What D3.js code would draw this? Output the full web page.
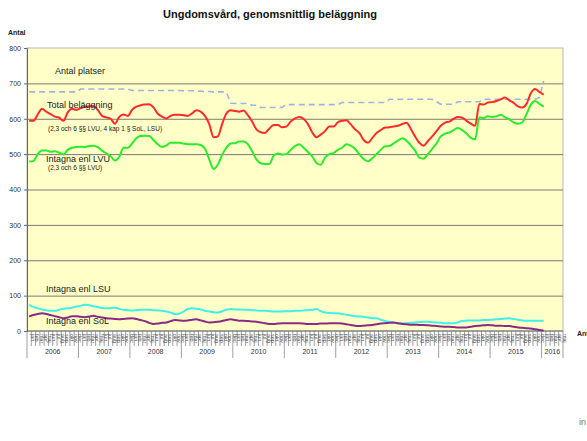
<!DOCTYPE html>
<html>
<head>
<meta charset="utf-8">
<script src="https://cdn.jsdelivr.net/npm/d3@7"></script>
<style>
  body { margin: 0; background: #fff; }
  svg { font-family: "Liberation Sans", Arial, sans-serif; display: block; }
</style>
</head>
<body>
<svg id="chart"></svg>
<script>
const years = [2006, 2007, 2008, 2009, 2010, 2011, 2012, 2013, 2014, 2015, 2016];
const monthNames = ["jan", "feb", "mar", "apr", "maj", "jun", "jul", "aug", "sep", "okt", "nov", "dec"];
const monthsIn2016 = 5;
const yTicks = [0, 100, 200, 300, 400, 500, 600, 700, 800];

// Antal platser (dashed)
const platser = [
  676, 676, 676, 676, 676, 676, 676, 676, 676, 676, 676, 676,
  684, 684, 684, 684, 684, 684, 684, 684, 684, 684, 684, 684,
  680, 680, 680, 680, 680, 680, 680, 680, 680, 680, 680, 680,
  679, 679, 679, 679, 678, 677, 677, 676, 676, 676, 675, 644,
  643, 643, 643, 643, 638, 638, 632, 632, 632, 632, 632, 632,
  640, 640, 640, 640, 640, 640, 640, 640, 640, 640, 640, 640,
  640, 646, 646, 646, 646, 646, 646, 646, 646, 646, 646, 646,
  655, 655, 655, 655, 655, 655, 655, 655, 655, 655, 655, 648,
  641, 641, 641, 641, 648, 648, 648, 648, 648, 648, 655, 655,
  655, 655, 655, 655, 655, 655, 655, 655, 655, 655, 655, 660,
  707
];
// Total beläggning (red)
const total = [
  594, 594, 612, 628, 620, 613, 606, 603, 594, 618, 628, 625,
  630, 634, 635, 636, 625, 608, 604, 600, 586, 605, 612, 608,
  625, 634, 638, 640, 641, 632, 614, 606, 601, 608, 611, 611,
  610, 608, 615, 624, 620, 608, 585, 548, 550, 585, 615, 624,
  622, 620, 623, 610, 592, 570, 562, 560, 572, 582, 582, 576,
  578, 592, 601, 605, 600, 585, 562, 548, 555, 565, 578, 578,
  590, 594, 596, 584, 570, 560, 540, 532, 545, 560, 568, 575,
  576, 578, 580, 585, 589, 572, 550, 532, 524, 537, 550, 565,
  580, 589, 592, 600, 605, 603, 594, 586, 580, 642, 640, 646,
  647, 650, 655, 660, 652, 645, 635, 632, 642, 672, 684, 676,
  668
];
// Intagna enl LVU (green)
const lvu = [
  479, 481, 500, 510, 510, 507, 508, 504, 499, 512, 518, 520,
  521, 520, 523, 524, 520, 510, 502, 494, 482, 492, 518, 518,
  530, 545, 551, 552, 551, 540, 528, 520, 525, 532, 532, 532,
  530, 528, 528, 528, 526, 515, 485, 458, 470, 498, 518, 530,
  531, 536, 536, 528, 508, 485, 474, 472, 472, 495, 502, 499,
  500, 512, 523, 528, 518, 506, 494, 475, 470, 490, 500, 503,
  512, 518, 528, 524, 515, 500, 486, 480, 488, 500, 512, 522,
  523, 530, 538, 545, 538, 525, 510, 490, 487, 500, 515, 530,
  550, 558, 561, 568, 574, 568, 558, 546, 542, 604, 602, 607,
  605, 607, 611, 604, 598, 590, 586, 590, 613, 640, 650, 642,
  634
];
// Intagna enl LSU (cyan)
const lsu = [
  74, 68, 64, 61, 59, 57, 57, 60, 63, 64, 66, 69,
  71, 74, 73, 70, 68, 65, 64, 65, 66, 63, 60, 59,
  58, 59, 60, 60, 60, 59, 58, 57, 55, 52, 48, 49,
  55, 62, 64, 63, 61, 57, 55, 53, 52, 56, 60, 62,
  61, 61, 60, 60, 59, 58, 57, 57, 56, 55, 55, 55,
  56, 56, 57, 57, 58, 59, 60, 62, 56, 52, 51, 50,
  50, 48, 46, 44, 42, 41, 40, 38, 36, 36, 32, 28,
  26, 23, 22, 22, 22, 23, 24, 25, 26, 26, 25, 24,
  23, 22, 22, 22, 25, 28, 29, 30, 30, 30, 31, 31,
  32, 33, 34, 35, 36, 34, 32, 30, 29, 29, 29, 29,
  29
];
// Intagna enl SoL (purple)
const sol = [
  41, 45, 48, 50, 48, 45, 42, 39, 36, 38, 42, 42,
  40, 39, 41, 43, 40, 38, 36, 35, 34, 33, 34, 35,
  36, 34, 31, 28, 23, 20, 21, 23, 24, 28, 31, 30,
  29, 30, 32, 33, 30, 27, 24, 25, 26, 28, 31, 33,
  31, 29, 29, 28, 27, 26, 24, 22, 20, 20, 21, 22,
  22, 22, 22, 22, 21, 20, 20, 20, 21, 21, 22, 22,
  22, 21, 19, 17, 15, 14, 15, 16, 17, 19, 21, 22,
  23, 24, 22, 20, 19, 18, 18, 17, 17, 16, 15, 14,
  13, 12, 12, 11, 10, 10, 10, 12, 14, 15, 16, 17,
  16, 15, 15, 14, 14, 12, 10, 9, 8, 7, 5, 3,
  1
];

const width = 587;
const height = 441;
const margin = { top: 48, right: 24, bottom: 110, left: 27 };

const svg = d3.select("#chart").attr("width", width).attr("height", height);
svg.append("rect").attr("width", width).attr("height", height).attr("fill", "#fff");

// month categories
const months = [];
years.forEach((yr) => {
  const n = yr === 2016 ? monthsIn2016 : 12;
  for (let m = 0; m < n; m++) months.push({ key: yr + "-" + m, year: yr, name: monthNames[m] });
});

const x = d3
  .scaleBand()
  .domain(months.map((d) => d.key))
  .range([margin.left, width - margin.right])
  .padding(0);

const y = d3
  .scaleLinear()
  .domain([0, 800])
  .range([height - margin.bottom, margin.top]);

const cx = (i) => x(months[i].key) + x.bandwidth() / 2;

// plot background
svg
  .append("rect")
  .attr("x", margin.left)
  .attr("y", margin.top)
  .attr("width", width - margin.right - margin.left)
  .attr("height", height - margin.bottom - margin.top)
  .attr("fill", "#ffffc8")
  .attr("stroke", "#c4c4c4")
  .attr("stroke-width", 1.2);

// gridlines
svg
  .append("g")
  .attr("class", "grid")
  .attr("transform", `translate(${margin.left},0)`)
  .call(d3.axisLeft(y).tickValues(yTicks.slice(1, -1)).tickSize(-(width - margin.right - margin.left)).tickFormat(""))
  .call((g) => g.select(".domain").remove())
  .call((g) => g.selectAll("line").attr("stroke", "#7a7a72").attr("stroke-width", 1));

// y axis
svg
  .append("g")
  .attr("class", "y-axis")
  .attr("transform", `translate(${margin.left},0)`)
  .call(d3.axisLeft(y).tickValues(yTicks).tickSize(3).tickPadding(3))
  .call((g) => g.select(".domain").attr("stroke", "#666"))
  .call((g) => g.selectAll("line").attr("stroke", "#666"))
  .call((g) => g.selectAll("text").attr("font-size", "7px").attr("fill", "#333"));

svg
  .append("text")
  .attr("x", 8)
  .attr("y", 35)
  .attr("font-size", "7px")
  .attr("font-weight", "bold")
  .attr("fill", "#222")
  .text("Antal");

// x axis: month cells
const x0 = y(0);
const xAxis = svg.append("g").attr("class", "x-axis");
xAxis
  .append("line")
  .attr("x1", margin.left)
  .attr("x2", width - margin.right)
  .attr("y1", x0)
  .attr("y2", x0)
  .attr("stroke", "#666");

xAxis
  .selectAll(".mtick")
  .data(months)
  .join("line")
  .attr("class", "mtick")
  .attr("x1", (d) => x(d.key))
  .attr("x2", (d) => x(d.key))
  .attr("y1", x0)
  .attr("y2", (d) => (d.name === "jan" ? x0 + 27 : x0 + 15))
  .attr("stroke", "#777")
  .attr("stroke-width", 0.7);

xAxis
  .append("line")
  .attr("x1", width - margin.right)
  .attr("x2", width - margin.right)
  .attr("y1", x0)
  .attr("y2", x0 + 27)
  .attr("stroke", "#777")
  .attr("stroke-width", 0.7);

xAxis
  .selectAll(".mlabel")
  .data(months)
  .join("text")
  .attr("class", "mlabel")
  .attr("transform", (d) => `translate(${x(d.key) + x.bandwidth() / 2 + 1.9},${x0 + 3}) rotate(90)`)
  .attr("font-size", "5.4px")
  .attr("fill", "#555")
  .text((d) => d.name);

xAxis
  .selectAll(".ylabel")
  .data(years)
  .join("text")
  .attr("class", "ylabel")
  .attr("x", (yr) => {
    const ms = months.filter((d) => d.year === yr);
    return (x(ms[0].key) + x(ms[ms.length - 1].key) + x.bandwidth()) / 2;
  })
  .attr("y", x0 + 23)
  .attr("text-anchor", "middle")
  .attr("font-size", "7px")
  .attr("fill", "#333")
  .text((yr) => yr);

svg
  .append("text")
  .attr("x", 577)
  .attr("y", 336)
  .attr("font-size", "7px")
  .attr("font-weight", "bold")
  .attr("fill", "#222")
  .text("Antal");

// lines
const idx = d3.range(platser.length);
const series = [
  { values: lsu, color: "#3ff0ea", width: 2, curve: d3.curveMonotoneX },
  { values: sol, color: "#8a2a86", width: 2, curve: d3.curveMonotoneX },
  { values: platser, color: "#9fb4e6", width: 1.6, curve: d3.curveLinear, dash: "6,4" },
  { values: lvu, color: "#2aec2a", width: 2, curve: d3.curveMonotoneX },
  { values: total, color: "#ff2a2a", width: 2, curve: d3.curveMonotoneX },
];

series.forEach((s) => {
  const line = d3
    .line()
    .x((i) => cx(i))
    .y((i) => y(s.values[i]))
    .curve(s.curve);
  svg
    .append("path")
    .datum(idx)
    .attr("d", line)
    .attr("fill", "none")
    .attr("stroke", s.color)
    .attr("stroke-width", s.width)
    .attr("stroke-dasharray", s.dash || null)
    .attr("stroke-linejoin", "round");
});

// annotations
const notes = [
  { text: "Antal platser", x: 55, y: 74, size: 9 },
  { text: "Total beläggning", x: 47, y: 108, size: 9 },
  { text: "(2,3 och 6 §§ LVU, 4 kap 1 § SoL, LSU)", x: 48, y: 131, size: 6.5 },
  { text: "Intagna enl LVU", x: 46, y: 162, size: 9 },
  { text: "(2,3 och 6 §§ LVU)", x: 48, y: 170, size: 6.5 },
  { text: "Intagna enl LSU", x: 46, y: 292, size: 9 },
  { text: "Intagna enl SoL", x: 46, y: 324, size: 9 },
];
svg
  .selectAll(".note")
  .data(notes)
  .join("text")
  .attr("class", "note")
  .attr("x", (d) => d.x)
  .attr("y", (d) => d.y)
  .attr("font-size", (d) => d.size + "px")
  .attr("fill", "#222")
  .text((d) => d.text);

// title
svg
  .append("text")
  .attr("x", 270)
  .attr("y", 18)
  .attr("text-anchor", "middle")
  .attr("font-size", "11px")
  .attr("font-weight", "bold")
  .attr("fill", "#111")
  .text("Ungdomsvård, genomsnittlig beläggning");

svg
  .append("text")
  .attr("x", 579)
  .attr("y", 425)
  .attr("font-size", "9px")
  .attr("fill", "#777")
  .text("in");
</script>
</body>
</html>
